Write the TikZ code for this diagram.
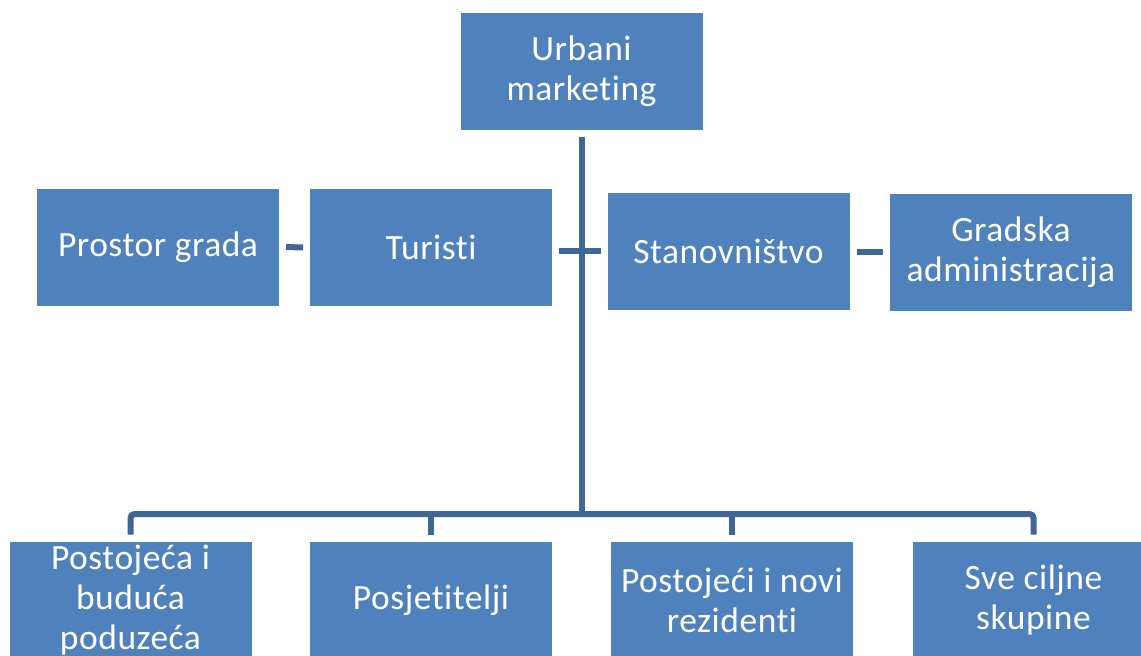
\documentclass[tikz,border=0pt]{standalone}
\usepackage{fontspec}
\setmainfont{Carlito}[Ligatures=NoCommon, LetterSpace=1.5]
\definecolor{boxblue}{HTML}{4F81BD}
\definecolor{lineblue}{HTML}{3E6797}
\tikzset{
  box/.style={rectangle, fill=boxblue, draw=white, line width=1pt, minimum width=243pt, minimum height=118pt, text width=238pt, align=flush center, text=white, font=\fontsize{35.5}{40}\selectfont, inner sep=0pt},
  conn/.style={draw=lineblue, line width=6pt}
}
\begin{document}
\begin{tikzpicture}[x=1pt,y=-1pt]
\useasboundingbox (0,0) rectangle (1141,656);
\clip (0,0) rectangle (1141,656);
\node[box] (u) at (581.5,71) {Urbani\\marketing};
\node[box] (pg) at (158,247) {Prostor grada};
\node[box] (t) at (431,247.5) {Turisti};
\node[box] (s) at (728.5,251) {Stanovništvo};
\node[box] (g) at (1011,252) {Gradska\\administracija};
\node[box] (p1) at (130.5,600) {Postojeća i\\buduća\\poduzeća};
\node[box] (p2) at (431,600) {Posjetitelji};
\node[box] (p3) at (732,600) {Postojeći i novi\\rezidenti};
\node[box] (p4) at (1033.5,600) {Sve ciljne\\skupine};
\coordinate (bar) at (581.5,514);
\draw[conn, shorten <=6pt] (u.south) -- (bar);
\draw[conn, rounded corners=4pt, shorten <=6pt, shorten >=6pt] (p1.north) |- (bar) -| (p4.north);
\draw[conn, shorten >=6pt] (p2.north |- bar) -- (p2.north);
\draw[conn, shorten >=6pt] (p3.north |- bar) -- (p3.north);
\draw[conn, shorten <=6pt, shorten >=6pt] (pg.east) -- (t.west);
\draw[conn, shorten <=6pt, shorten >=6pt] (t.east |- s.west) -- (s.west);
\draw[conn, shorten <=6pt, shorten >=6pt] (s.east |- g.west) -- (g.west);
\end{tikzpicture}
\end{document}
